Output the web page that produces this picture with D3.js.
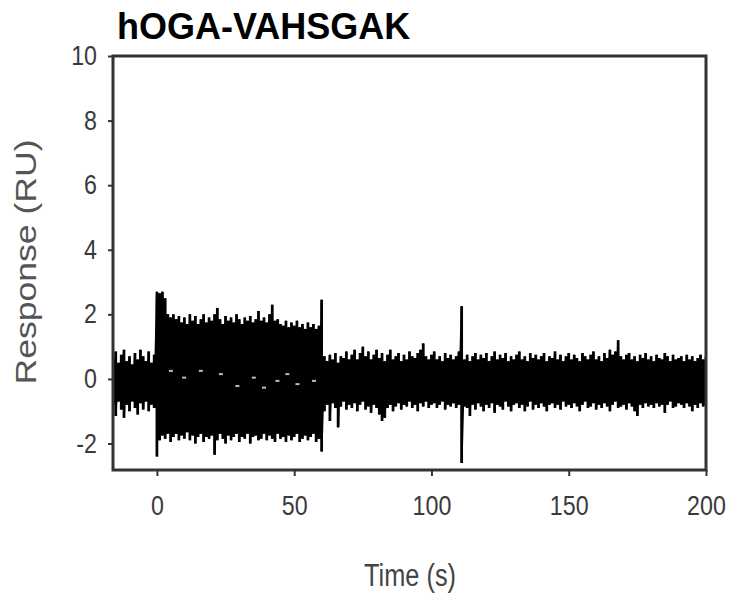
<!DOCTYPE html>
<html>
<head>
<meta charset="utf-8">
<script src="https://cdn.jsdelivr.net/npm/d3@7"></script>
<style>
  body { margin: 0; background: #fff; }
  svg { display: block; }
</style>
</head>
<body>
<div id="chart"></div>
<script>
// time axis: one sample per second from -16 to 200
var tStart = -16;

// upper / lower envelope of the noisy trace (RU), one pair per second
var upper = [
  // -16 .. -1
  0.6,0.85,0.5,0.75,0.9,0.55,0.7,0.45,0.8,0.6,0.9,0.7,0.55,0.85,0.5,0.75,
  // 0 .. 60
  2.7,2.65,2.7,2.5,2.0,1.9,2.0,1.85,1.95,1.75,
  1.9,1.7,2.0,1.8,1.95,1.7,1.85,2.0,1.75,1.9,
  1.8,2.0,2.2,1.85,1.7,1.95,1.8,1.9,1.75,2.0,
  1.85,1.7,1.9,1.8,1.95,1.75,1.85,2.1,1.8,1.9,
  1.75,2.0,2.3,1.8,1.85,1.7,1.65,1.8,1.6,1.75,
  1.65,1.8,1.6,1.7,1.55,1.75,1.6,1.7,1.55,1.65,
  2.45,
  // 61 .. 200
  0.7,0.55,0.75,0.6,0.8,0.5,0.7,0.65,0.85,0.6,
  0.75,0.9,0.6,0.8,1.0,0.7,0.85,0.6,0.75,0.9,
  0.65,0.8,0.55,0.75,0.9,0.6,0.7,0.8,0.55,0.75,
  0.6,0.85,0.7,0.65,0.8,0.9,1.1,0.7,0.6,0.75,
  0.85,0.6,0.7,0.55,0.8,0.65,0.75,0.6,0.7,0.85,
  2.25,0.6,0.75,0.55,0.7,0.8,0.6,0.75,0.65,0.8,
  0.55,0.7,0.85,0.6,0.75,0.65,0.8,0.55,0.7,0.6,
  0.75,0.85,0.6,0.7,0.55,0.8,0.65,0.75,0.6,0.7,
  0.8,0.55,0.7,0.65,0.85,0.6,0.75,0.55,0.7,0.8,
  0.6,0.75,0.65,0.55,0.8,0.7,0.6,0.75,0.85,0.6,
  0.7,0.55,0.8,0.65,0.9,0.75,0.85,1.2,0.7,0.6,
  0.75,0.8,0.6,0.7,0.55,0.75,0.65,0.8,0.6,0.7,
  0.55,0.75,0.65,0.6,0.8,0.7,0.55,0.75,0.6,0.65,
  0.7,0.55,0.75,0.6,0.7,0.55,0.65,0.75,0.6,0.7
];
var lower = [
  // -16 .. -1
  -0.8,-1.15,-0.7,-0.95,-1.2,-0.8,-1.0,-0.7,-0.9,-1.1,-0.75,-0.95,-0.7,-1.0,-0.8,-0.9,
  // 0 .. 60
  -2.4,-1.9,-1.75,-1.85,-1.7,-1.95,-1.8,-1.7,-1.9,-1.75,
  -1.85,-1.65,-1.9,-1.75,-2.0,-1.8,-1.7,-1.95,-1.8,-1.85,
  -1.75,-2.35,-1.9,-1.7,-1.85,-2.0,-1.75,-1.9,-1.8,-1.7,
  -1.95,-1.8,-1.85,-1.7,-2.0,-1.8,-1.75,-1.9,-1.85,-1.7,
  -1.9,-1.75,-1.85,-1.95,-1.7,-1.85,-1.8,-1.95,-1.75,-1.9,
  -1.8,-1.7,-1.95,-1.85,-1.75,-1.9,-1.8,-1.7,-1.95,-1.85,
  -2.25,
  // 61 .. 200
  -1.0,-0.8,-1.3,-0.75,-0.9,-1.5,-0.85,-0.7,-0.95,-0.8,
  -0.9,-0.75,-1.0,-0.8,-0.7,-0.95,-0.85,-1.05,-0.8,-0.9,
  -1.1,-1.3,-1.2,-0.9,-0.8,-1.0,-0.85,-0.75,-0.95,-0.8,
  -0.85,-0.7,-0.9,-0.8,-1.0,-0.75,-0.85,-0.7,-0.9,-0.8,
  -0.75,-0.9,-0.8,-0.7,-0.95,-0.8,-0.85,-0.75,-0.9,-0.8,
  -2.6,-0.85,-0.9,-1.15,-0.8,-0.95,-0.75,-0.85,-1.0,-0.8,
  -0.9,-0.75,-1.05,-0.8,-0.85,-0.95,-0.7,-0.85,-1.0,-0.8,
  -0.75,-0.9,-0.8,-1.0,-0.85,-0.7,-0.95,-0.8,-0.9,-0.75,
  -0.85,-1.0,-0.8,-0.75,-0.9,-0.8,-0.95,-0.7,-0.85,-0.8,
  -0.9,-0.75,-0.85,-1.0,-0.8,-0.7,-0.9,-0.85,-0.75,-0.95,
  -0.8,-0.9,-0.75,-0.85,-1.0,-0.8,-0.7,-0.9,-0.85,-0.8,
  -0.95,-0.75,-0.85,-1.0,-1.15,-0.8,-0.9,-0.75,-0.85,-0.8,
  -0.9,-0.75,-0.85,-0.8,-1.05,-0.8,-0.7,-0.9,-0.85,-0.75,
  -0.8,-0.9,-0.75,-0.85,-1.0,-0.8,-0.9,-0.75,-0.85,-0.8
];

// faint light specks inside the injection block
var speckT = [5.1, 9.9, 16, 23.3, 29.3, 35.3, 39, 43.9, 47.5, 51.2, 57.2];
var speckV = [0.25, 0.04, 0.25, 0.15, -0.22, 0.04, -0.27, -0.06, 0.15, -0.16, -0.06];

var xTicks = [0, 50, 100, 150, 200];
var yTicks = [-2, 0, 2, 4, 6, 8, 10];

var W = 732, H = 594;
var margin = {left: 113, right: 706, top: 56, bottom: 470};

var svg = d3.select("#chart").append("svg")
  .attr("width", W)
  .attr("height", H);

var x = d3.scaleLinear().domain([-16, 200]).range([margin.left, margin.right]);
var y = d3.scaleLinear().domain([-2.82, 10]).range([margin.bottom, margin.top]);

var font = "'Liberation Sans',Arial,sans-serif";

var samples = upper.map(function(u, i) {
  return {t: tStart + i, hi: u, lo: lower[i]};
});

// solid noise band
svg.append("path")
  .datum(samples)
  .attr("d", d3.area()
    .curve(d3.curveStep)
    .x(function(d) { return x(d.t); })
    .y0(function(d) { return y(d.lo); })
    .y1(function(d) { return y(d.hi); }))
  .attr("fill", "#000");

// zigzag on top for a ragged edge
var pts = [];
samples.forEach(function(d) {
  pts.push([x(d.t), y(d.hi)]);
  pts.push([x(d.t), y(d.lo)]);
});
svg.append("path")
  .attr("d", d3.line()(pts))
  .attr("fill", "none")
  .attr("stroke", "#000")
  .attr("stroke-width", 1.8);

// light specks
svg.selectAll(".speck")
  .data(speckT)
  .enter()
  .append("rect")
    .attr("x", function(d) { return x(d) - 2; })
    .attr("y", function(d, i) { return y(speckV[i]) - 1; })
    .attr("width", 4)
    .attr("height", 2)
    .attr("fill", "#bbb");

// axes
var yAxis = svg.append("g")
  .attr("transform", "translate(" + margin.left + ",0)")
  .call(d3.axisLeft(y).tickValues(yTicks).tickFormat(function(d) { return String(d); })
    .tickSize(5).tickPadding(11).tickSizeOuter(0));
var xAxis = svg.append("g")
  .attr("transform", "translate(0," + margin.bottom + ")")
  .call(d3.axisBottom(x).tickValues(xTicks).tickFormat(function(d) { return String(d); })
    .tickSize(6).tickPadding(20).tickSizeOuter(0));

[yAxis, xAxis].forEach(function(g) {
  g.select(".domain").remove();
  g.selectAll("line").attr("stroke", "#333").attr("stroke-width", 2);
  g.selectAll("text")
    .attr("fill", "#3a3a3a")
    .style("font-family", font)
    .style("font-size", "27px")
    .each(function() {
      // squeeze the glyphs a bit, like the source figure
      var len = this.getComputedTextLength();
      d3.select(this).attr("textLength", len * 0.86).attr("lengthAdjust", "spacingAndGlyphs");
    });
});

// frame
svg.append("rect")
  .attr("x", margin.left)
  .attr("y", margin.top)
  .attr("width", margin.right - margin.left)
  .attr("height", margin.bottom - margin.top)
  .attr("fill", "none")
  .attr("stroke", "#333")
  .attr("stroke-width", 3);

// title
svg.append("text")
  .attr("x", 117)
  .attr("y", 39)
  .style("font-family", font)
  .style("font-weight", "bold")
  .style("font-size", "36px")
  .attr("fill", "#000")
  .text("hOGA-VAHSGAK");

// axis titles
svg.append("text")
  .attr("transform", "translate(36,262) rotate(-90)")
  .attr("text-anchor", "middle")
  .attr("textLength", 245)
  .attr("lengthAdjust", "spacingAndGlyphs")
  .style("font-family", font)
  .style("font-size", "29px")
  .attr("fill", "#555")
  .text("Response (RU)");

svg.append("text")
  .attr("x", 410)
  .attr("y", 586)
  .attr("text-anchor", "middle")
  .attr("textLength", 92)
  .attr("lengthAdjust", "spacingAndGlyphs")
  .style("font-family", font)
  .style("font-size", "31px")
  .attr("fill", "#444")
  .text("Time (s)");
</script>
</body>
</html>
